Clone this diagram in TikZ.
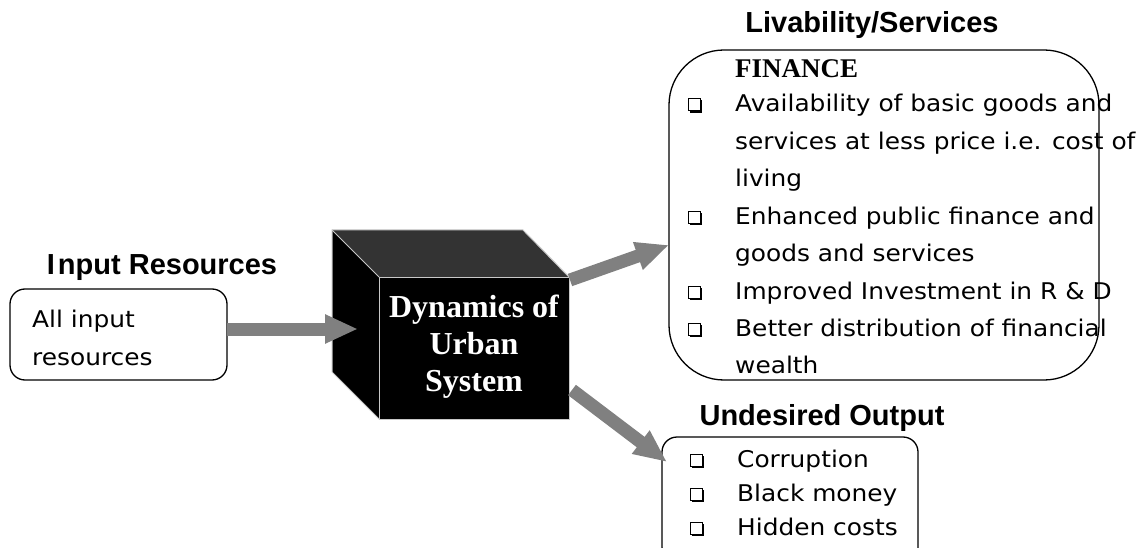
\documentclass[tikz,border=0pt]{standalone}
\usepackage{fontspec}
\usetikzlibrary{arrows.meta}
\newfontfamily\headfont{Liberation Sans}
\newfontfamily\serifb{Liberation Serif}
\newfontfamily\comic[FakeStretch=1.08]{DejaVu Sans}
\definecolor{arrowgray}{HTML}{808080}
\definecolor{topgray}{HTML}{333333}
\definecolor{edgegray}{HTML}{C8C8C8}
\tikzset{
  heading/.style={font=\headfont\fontsize{29}{33}\selectfont\bfseries, anchor=base, inner sep=0pt},
  itemtext/.style={font=\comic\fontsize{23}{28}\selectfont, anchor=base west, inner sep=0pt},
  cubetext/.style={font=\serifb\fontsize{32}{37}\selectfont\bfseries, text=white, align=center},
  roundbox/.style={draw=black, line width=1.3pt},
  fatarrow/.style={draw=arrowgray, line width=13pt, -{Triangle[length=33pt,width=27pt]}},
}
\newcommand{\sqbul}[2]{%
  \fill[black] (#1+1.5,#2-11.5) rectangle (#1+13.8,#2+0.8);
  \filldraw[fill=white, draw=black, line width=1pt] (#1,#2-13) rectangle (#1+12,#2-1);
}
\begin{document}
\begin{tikzpicture}[x=1pt,y=-1pt]
\clip (0,0) rectangle (1138,548);
\fill[white] (0,0) rectangle (1138,548);

% Input
\node[heading] (inhead) at (162,274) {I\kern3pt nput Resources};
\draw[roundbox, rounded corners=15pt] (10,289) rectangle (227,380);
\node[minimum width=217pt, minimum height=91pt, inner sep=0pt] (inbox) at (118.5,334.5) {};
\node[itemtext] (in1) at (32,327) {All input};
\node[itemtext] (in2) at (32,365) {resources};

% Cube
\fill[black] (332,230) -- (379,277) -- (379,419) -- (332,372) -- cycle;
\fill[topgray] (332,230) -- (523,230) -- (569,277) -- (379,277) -- cycle;
\draw[edgegray, line width=1pt] (332,372) -- (332,230) -- (523,230) -- (569,277);
\draw[edgegray, line width=1pt] (332,230) -- (379,277);
\draw[edgegray, line width=1pt] (332,372) -- (379,419);
\node[fill=black, draw=edgegray, line width=1pt, minimum width=190pt, minimum height=142pt, inner sep=0pt] (cube) at (474,348) {};
\node[cubetext] (cubelabel) at (474,347) {Dynamics of\\Urban\\System};

% Livability box
\node[heading] (livhead) at (872,33) {Livability/Services};
\draw[roundbox, rounded corners=55pt] (669,50) rectangle (1099,380);
\node[minimum width=430pt, minimum height=330pt, inner sep=0pt] (livbox) at (884,215) {};
\node[font=\serifb\fontsize{27}{30}\selectfont\bfseries, anchor=base west, inner sep=0pt] (fin) at (735,78) {FINANCE};
\sqbul{688}{112}
\node[itemtext] (l1) at (735,112) {Availability of basic goods and};
\node[itemtext] (l2) at (735,149.4) {services at less price i.e. cost of};
\node[itemtext] (l3) at (735,186.8) {living};
\sqbul{688}{224.2}
\node[itemtext] (l4) at (735,224.2) {Enhanced public finance and};
\node[itemtext] (l5) at (735,261.6) {goods and services};
\sqbul{688}{299}
\node[itemtext] (l6) at (735,299) {Improved Investment in R \& D};
\sqbul{688}{336.4}
\node[itemtext] (l7) at (735,336.4) {Better distribution of financial};
\node[itemtext] (l8) at (735,373.8) {wealth};

% Undesired box
\node[heading] (undhead) at (822,425) {Undesired Output};
\draw[roundbox, rounded corners=15pt] (662,437) rectangle (918,562);
\node[minimum width=256pt, minimum height=111pt, inner sep=0pt] (undbox) at (790,492.5) {};
\sqbul{690}{467}
\node[itemtext] (u1) at (737,467) {Corruption};
\sqbul{690}{501}
\node[itemtext] (u2) at (737,501) {Black money};
\sqbul{690}{535}
\node[itemtext] (u3) at (737,535) {Hidden costs};

% Arrows
\coordinate (a1s) at (inbox.east);
\coordinate (a1e) at (358,329);
\coordinate (a2s) at (570,280);
\coordinate (a2e) at (669,245);
\coordinate (a3s) at (572,390);
\coordinate (a3e) at (667,462);
\draw[fatarrow] (a1s |- a1e) -- (a1e);
\draw[fatarrow] (a2s) -- (a2e);
\draw[fatarrow] (a3s) -- (a3e);
\end{tikzpicture}
\end{document}
